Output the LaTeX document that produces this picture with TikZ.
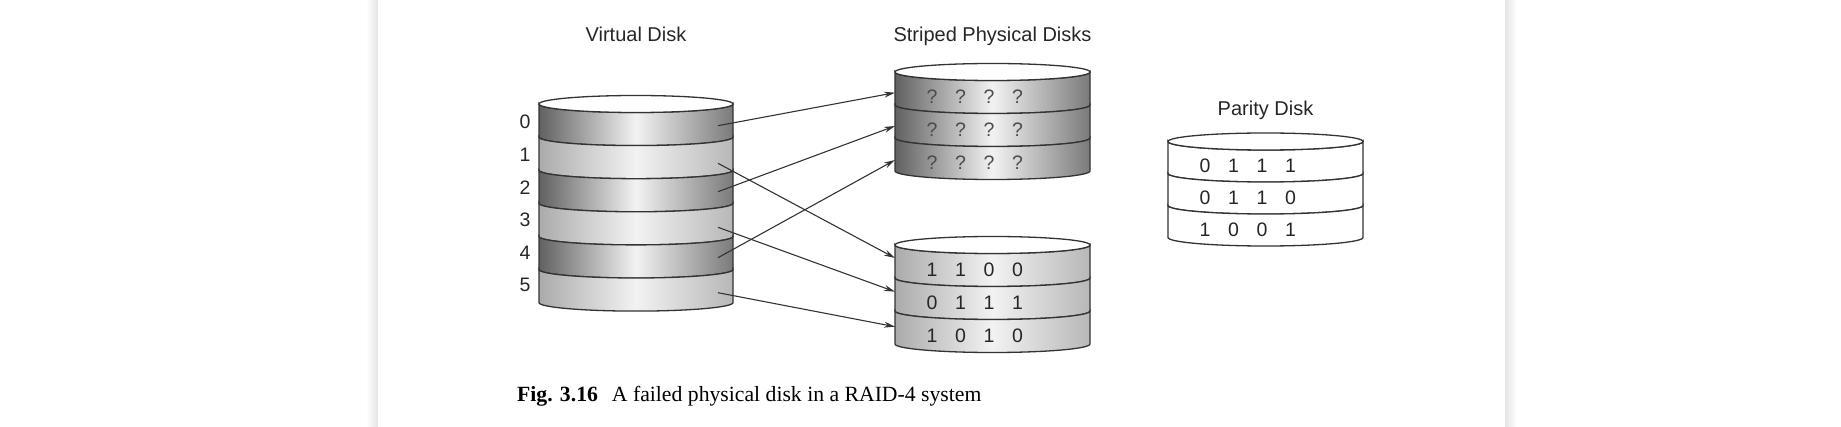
\documentclass[tikz,border=0pt]{standalone}
\usepackage{fontspec}
\setmainfont{Liberation Serif}
\setsansfont{Liberation Sans}
\usetikzlibrary{arrows.meta}

\begin{document}
\begin{tikzpicture}[x=1pt,y=1pt,
    rim/.style={draw=black!80,line width=1.3pt},
    darkband/.style={rim,left color=black!62,right color=black!52,middle color=black!5},
    lightband/.style={rim,left color=black!33,right color=black!28,middle color=black!5},
    plainband/.style={rim,fill=white},
    lid/.style={rim,fill=white},
    title/.style={font=\sffamily\fontsize{20}{24}\selectfont,anchor=base,inner sep=0pt,text=black!85},
    bit/.style={font=\sffamily\fontsize{19.5}{22}\selectfont,inner sep=0pt,text=black!85},
    link/.style={draw=black!80,line width=1.1pt,-{Stealth[length=11pt,width=6pt]}}]

    \useasboundingbox (0,0) rectangle (1841,-427);
    % page edges
    \shade[left color=white,right color=black!10] (366,0) rectangle (378,-427);
    \shade[left color=black!10,right color=white] (1505,0) rectangle (1517,-427);

    % virtual disk
    \foreach \i/\sty in {0/darkband,1/lightband,2/darkband,3/lightband,4/darkband,5/lightband} {
        \pgfmathsetmacro\ytop{-104-33.1*\i}
        \pgfmathsetmacro\ybot{\ytop-33.1}
        \path[\sty] (539,\ytop) -- (539,\ybot) arc[start angle=180,end angle=360,x radius=97,y radius=8.5]
            -- (733,\ytop) arc[start angle=0,end angle=-180,x radius=97,y radius=8.5] -- cycle;
    }
    \draw[lid] (636,-104) ellipse[x radius=97,y radius=8.5];
    \foreach \i in {0,...,5}
        \node[bit] (row\i) at (525,{-122-32.6*\i}) {\i};
    \node[title] (vtitle) at (636,-42) {Virtual Disk};

    % striped physical disks
    \foreach \i in {0,1,2} {
        \pgfmathsetmacro\ytop{-72-33*\i}
        \pgfmathsetmacro\ybot{\ytop-33}
        \path[darkband] (895,\ytop) -- (895,\ybot) arc[start angle=180,end angle=360,x radius=97.5,y radius=8.5]
            -- (1090,\ytop) arc[start angle=0,end angle=-180,x radius=97.5,y radius=8.5] -- cycle;
        \foreach \k in {0,...,3}
            \node[bit,text=black!70] (q\i\k) at ({932+28.5*\k},{-96.5-33*\i}) {?};
    }
    \draw[lid] (992.5,-72) ellipse[x radius=97.5,y radius=8.5];
    \node[title] (stitle) at (992.5,-42) {Striped Physical Disks};

    \foreach \i in {0,1,2} {
        \pgfmathsetmacro\ytop{-245-33*\i}
        \pgfmathsetmacro\ybot{\ytop-33}
        \path[lightband] (895,\ytop) -- (895,\ybot) arc[start angle=180,end angle=360,x radius=97.5,y radius=8.5]
            -- (1090,\ytop) arc[start angle=0,end angle=-180,x radius=97.5,y radius=8.5] -- cycle;
    }
    \draw[lid] (992.5,-245) ellipse[x radius=97.5,y radius=8.5];
    \foreach \r/\a/\b/\c/\d in {0/1/1/0/0,1/0/1/1/1,2/1/0/1/0} {
        \node[bit] (low\r a) at (932,{-269.5-33*\r}) {\a};
        \node[bit] (low\r b) at (960.5,{-269.5-33*\r}) {\b};
        \node[bit] (low\r c) at (989,{-269.5-33*\r}) {\c};
        \node[bit] (low\r d) at (1017.5,{-269.5-33*\r}) {\d};
    }

    % parity disk
    \foreach \i in {0,1,2} {
        \pgfmathsetmacro\ytop{-141.5-32*\i}
        \pgfmathsetmacro\ybot{\ytop-32}
        \path[plainband] (1168,\ytop) -- (1168,\ybot) arc[start angle=180,end angle=360,x radius=97.5,y radius=8.5]
            -- (1363,\ytop) arc[start angle=0,end angle=-180,x radius=97.5,y radius=8.5] -- cycle;
    }
    \draw[lid] (1265.5,-141.5) ellipse[x radius=97.5,y radius=8.5];
    \foreach \r/\a/\b/\c/\d in {0/0/1/1/1,1/0/1/1/0,2/1/0/0/1} {
        \node[bit] (par\r a) at (1205,{-166-32*\r}) {\a};
        \node[bit] (par\r b) at (1233.5,{-166-32*\r}) {\b};
        \node[bit] (par\r c) at (1262,{-166-32*\r}) {\c};
        \node[bit] (par\r d) at (1290.5,{-166-32*\r}) {\d};
    }
    \node[title] (ptitle) at (1265.5,-116) {Parity Disk};

    % striping
    \coordinate (v0) at (718,-125.7);
    \coordinate (v1) at (718,-163.3);
    \coordinate (v2) at (718,-191.7);
    \coordinate (v3) at (718,-227.3);
    \coordinate (v4) at (718,-257.7);
    \coordinate (v5) at (718,-292.7);
    \coordinate (s0) at (895,-92.7);
    \coordinate (s1) at (895,-126);
    \coordinate (s2) at (895,-160);
    \coordinate (d0) at (895,-258);
    \coordinate (d1) at (895,-291.7);
    \coordinate (d2) at (895,-326.7);
    \draw[link] (v0) -- (s0);
    \draw[link] (v1) -- (d0);
    \draw[link] (v2) -- (s1);
    \draw[link] (v3) -- (d1);
    \draw[link] (v4) -- (s2);
    \draw[link] (v5) -- (d2);

    \node[anchor=base west,inner sep=0pt,font=\fontsize{21.7}{26}\selectfont] (caption) at (517,-401)
        {\textbf{Fig. 3.16}\hspace{14pt}A failed physical disk in a RAID-4 system};
\end{tikzpicture}
\end{document}
